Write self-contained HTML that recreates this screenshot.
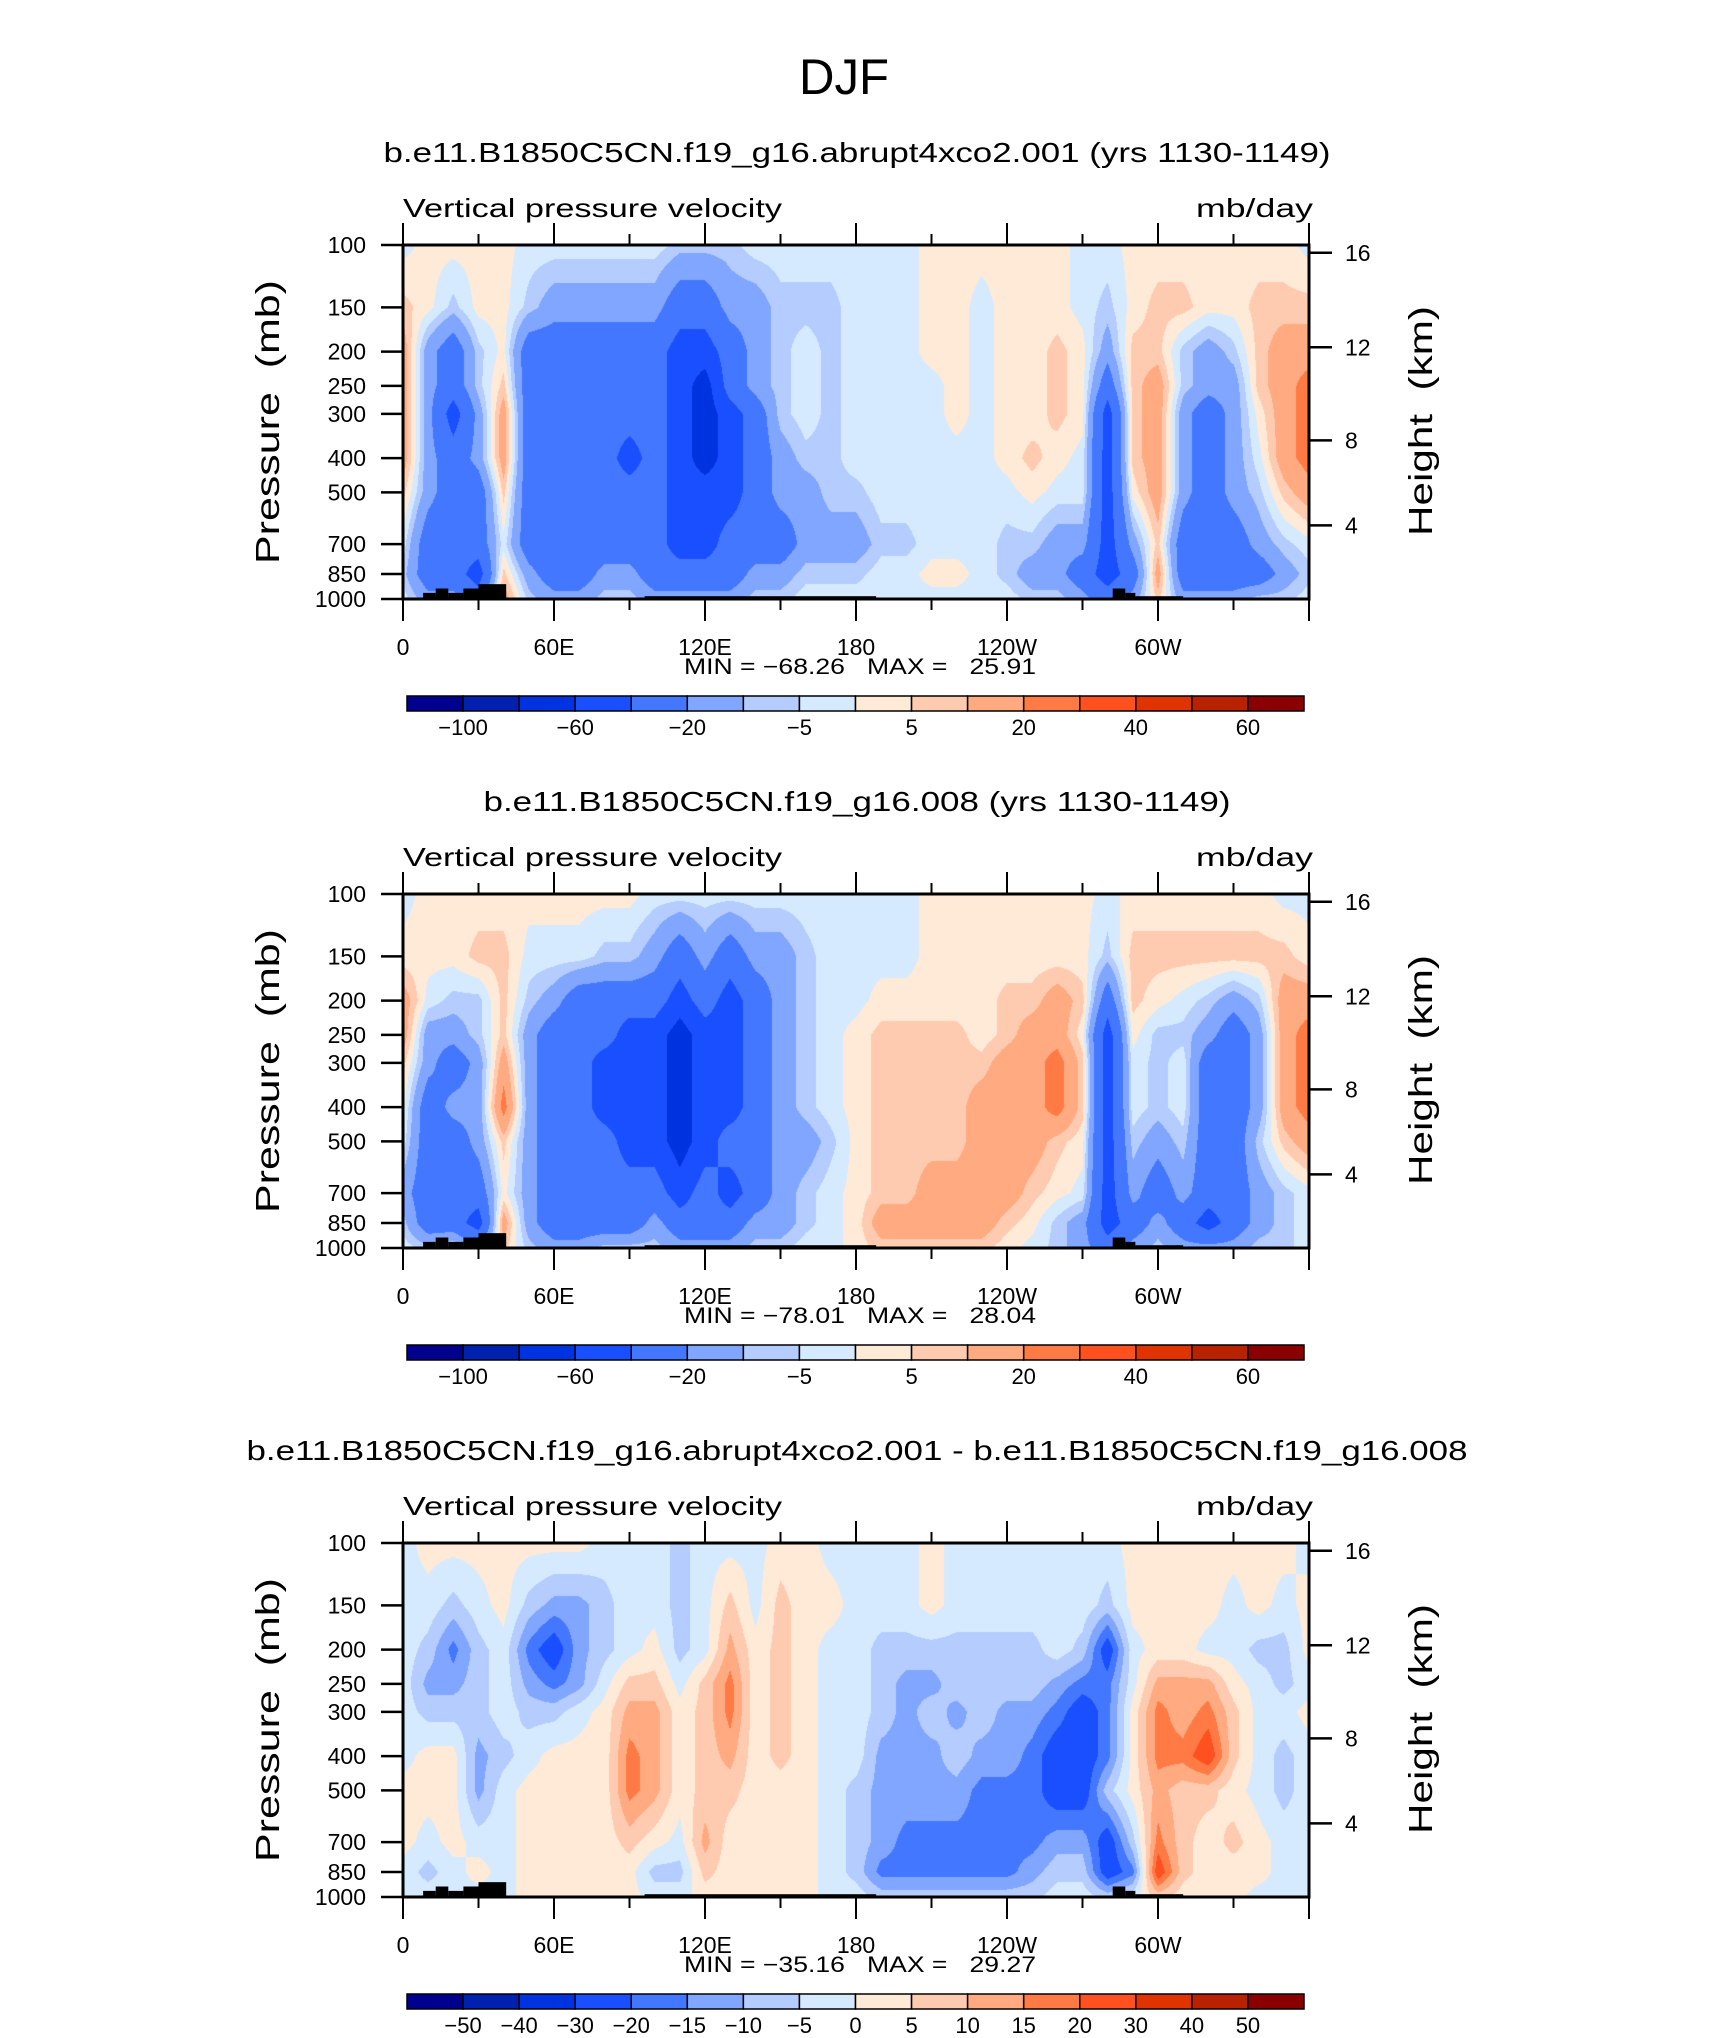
<!DOCTYPE html>
<html><head><meta charset="utf-8">
<style>
html,body{margin:0;padding:0;background:#fff;}
#wrap{position:relative;width:1710px;height:2038px;overflow:hidden;font-family:"Liberation Sans",sans-serif;}
canvas{position:absolute;}
svg{position:absolute;left:0;top:0;}
svg text{white-space:pre;}
</style></head>
<body>
<div id="wrap">
<canvas id="c0" width="906" height="354"></canvas>
<canvas id="c1" width="906" height="354"></canvas>
<canvas id="c2" width="906" height="354"></canvas>
<svg id="svg" width="1710" height="2038" xmlns="http://www.w3.org/2000/svg">
<text x="844" y="94" font-size="50" text-anchor="middle" textLength="90" lengthAdjust="spacingAndGlyphs" font-family="Liberation Sans Narrow, Liberation Sans, sans-serif">DJF</text>
</svg>
</div>
<script>
// ---- data ----
const lons=[0,10,20,30,40,50,60,70,80,90,100,110,120,130,140,150,160,170,180,190,200,210,220,230,240,250,260,270,280,290,300,310,320,330,340,350,360];
const pLevels=[100,150,200,250,300,400,500,700,850,1000];
const omegaExp=[
[-2,2,2,2,2,-2,-2,-2,-2,-2,-2,-7,-7,-7,-2,-2,-2,-2,-2,-2,-2,2,2,2,2,2,2,-2,-2,2,2,2,2,2,2,2,-2],
[7,2,-7,2,2,-7,-15,-15,-15,-15,-15,-30,-30,-15,-15,-7,-7,-7,-2,-2,-2,2,2,-2,2,2,2,-2,-7,2,7,7,2,2,7,7,7],
[15,-15,-30,-7,2,-30,-30,-30,-30,-30,-30,-50,-50,-30,-15,-7,-2,-7,-2,-2,-2,2,2,-2,2,2,7,2,-15,7,7,-7,-15,-7,7,15,15],
[15,-15,-30,-7,7,-30,-30,-30,-30,-30,-30,-50,-70,-30,-15,-7,-2,-7,-2,-2,-2,-2,2,-2,2,2,7,2,-30,7,15,-7,-15,-15,7,15,25],
[15,-15,-50,-15,15,-30,-30,-30,-30,-30,-30,-50,-70,-50,-30,-7,-2,-7,-2,-2,-2,-2,2,-2,2,2,7,2,-50,7,15,-15,-30,-15,2,15,25],
[15,-15,-30,-15,15,-30,-30,-30,-30,-50,-30,-50,-70,-50,-30,-15,-7,-7,-2,-2,-2,-2,-2,-2,2,7,2,-2,-50,7,15,-15,-30,-15,-2,15,25],
[7,-15,-30,-30,7,-30,-30,-30,-30,-30,-30,-50,-50,-50,-30,-15,-15,-7,-7,-2,-2,-2,-2,-2,-2,2,-2,-2,-50,2,15,-15,-30,-15,-7,7,15],
[-2,-30,-30,-30,-2,-30,-30,-30,-30,-30,-30,-50,-50,-30,-30,-30,-15,-15,-15,-7,-7,-2,-2,-2,-7,-7,-15,-15,-50,-15,7,-30,-30,-30,-15,-7,-2],
[-7,-30,-30,-50,7,-15,-30,-30,-15,-15,-30,-30,-30,-30,-15,-15,-7,-7,-7,-2,-2,2,2,-2,-7,-15,-15,-30,-50,-30,15,-30,-30,-30,-30,-15,-7],
[-2,-15,-15,-30,15,-7,-15,-15,-7,-7,-15,-15,-15,-15,-7,-7,-2,-2,-2,-2,-2,-2,-2,-2,-2,-7,-7,-15,-30,-15,7,-15,-15,-15,-7,-7,-2]];
const omegaCtl=[
[-2,2,2,2,2,2,2,2,2,2,-2,-2,-2,-2,-2,-2,-2,-2,-2,-2,-2,2,2,2,2,2,2,2,-2,2,2,2,2,2,2,-2,-2],
[2,2,2,7,7,-2,-2,-2,-7,-7,-15,-30,-15,-30,-15,-15,-7,-2,-2,-2,-2,2,2,2,2,2,2,2,-7,7,7,7,7,7,7,7,2],
[15,-2,-7,-7,7,-7,-15,-30,-30,-30,-30,-50,-30,-50,-30,-15,-7,-2,-2,2,2,2,2,2,7,7,15,7,-30,7,2,-2,-7,-15,-7,15,15],
[15,-15,-15,-7,7,-15,-30,-30,-30,-50,-50,-70,-50,-50,-30,-15,-7,-2,2,7,7,7,7,2,7,15,15,2,-50,2,-7,-7,-15,-30,-15,15,25],
[7,-15,-30,-15,15,-15,-30,-30,-50,-50,-50,-70,-50,-50,-30,-15,-7,-2,2,7,7,7,7,7,15,15,25,7,-50,-2,-7,-2,-30,-30,-15,15,25],
[2,-30,-15,-15,25,-15,-30,-30,-50,-50,-50,-70,-50,-50,-30,-15,-7,-2,2,7,7,7,7,15,15,15,25,7,-50,-2,-7,-2,-30,-30,-15,15,25],
[-2,-30,-30,-15,7,-15,-30,-30,-30,-50,-50,-70,-50,-30,-30,-15,-15,-7,2,7,7,7,7,15,15,15,7,2,-50,-7,-15,-7,-30,-30,-7,7,15],
[-15,-30,-30,-30,2,-15,-30,-30,-30,-30,-30,-50,-30,-50,-30,-15,-7,-2,2,7,7,15,15,15,15,7,2,-2,-50,-15,-30,-15,-30,-30,-15,-7,-2],
[-7,-30,-30,-50,15,-15,-30,-30,-30,-30,-15,-30,-30,-30,-15,-15,-7,-2,2,15,15,15,15,15,7,2,-7,-15,-50,-30,-15,-30,-50,-30,-15,-7,-2],
[-2,-7,-2,-15,7,-7,-15,-15,-7,-7,-7,-15,-15,-15,-7,-7,-2,-2,2,7,7,7,7,7,2,-2,-7,-15,-30,-15,-7,-15,-15,-15,-7,-7,-2]];
const omegaDiff=[
[-2,2,2,2,2,2,2,2,-2,-2,-2,-7,-2,-2,-2,2,2,-2,-2,-2,-2,2,-2,-2,-2,-2,-2,-2,-2,2,2,2,2,2,2,2,-2],
[-2,-2,-7,-2,2,-7,-12,-12,-7,-2,-2,-7,-2,7,-2,7,2,2,-2,-2,-2,2,-2,-2,-2,-2,-2,-2,-7,2,2,2,2,-2,2,-2,2],
[-2,-7,-17,-7,-2,-17,-25,-12,-7,-2,2,-7,-2,12,2,7,2,-2,-2,-7,-7,-7,-7,-7,-7,-7,-2,-7,-25,-2,2,2,-2,-2,-7,-7,2],
[-2,-12,-12,-7,-2,-12,-17,-12,-2,7,7,-2,7,17,2,7,2,-2,-2,-7,-12,-12,-7,-7,-7,-7,-12,-17,-17,-2,12,12,12,2,-2,-7,-2],
[-2,-7,-7,-7,-2,-7,-7,-2,2,12,12,2,7,17,2,7,2,-2,-2,-7,-12,-7,-12,-7,-12,-12,-17,-25,-17,2,17,12,17,7,-2,-2,2],
[-2,2,2,-12,-7,-2,2,2,2,17,12,2,7,12,2,7,2,-2,-2,-12,-12,-12,-7,-12,-12,-17,-25,-25,-17,2,17,17,25,7,-2,-7,-2],
[2,2,2,-12,-2,2,2,2,2,17,12,2,7,7,2,2,2,-2,-7,-12,-12,-12,-12,-17,-17,-17,-25,-25,-7,2,12,7,7,2,-2,-7,-2],
[2,-2,2,-2,-2,2,2,2,2,7,2,-2,12,2,2,2,2,-2,-7,-12,-17,-17,-17,-17,-17,-17,-12,-12,-25,-7,17,7,2,7,2,-2,-2],
[-2,-7,-2,2,-2,2,2,2,2,2,-7,-7,7,2,2,2,2,-2,-7,-17,-17,-17,-17,-17,-17,-12,-7,-7,-25,-17,25,7,2,2,2,-2,-2],
[-2,-2,-2,-2,-2,2,2,2,2,2,-2,-2,2,2,2,2,2,-2,-2,-7,-7,-7,-7,-7,-7,-7,-2,-2,-7,-2,7,2,2,2,-2,-2,-2]];
const levelsFull=[-100,-80,-60,-40,-20,-10,-5,0,5,10,20,30,40,50,60];
const levelsDiff=[-50,-40,-30,-20,-15,-10,-5,0,5,10,15,20,30,40,50];
const labelsFull=["-100","","-60","","-20","","-5","","5","","20","","40","","60"];
const labelsDiff=["-50","-40","-30","-20","-15","-10","-5","0","5","10","15","20","30","40","50"];
const colors=["#00008f","#0020b0","#0033e0","#1a4fff","#4477ff","#80a6ff","#b4ccff","#d6eaff","#ffead8","#ffcbb0","#ffaa80","#ff7a45","#ff5020","#e03400","#b82200","#8a0000"];
const lonTicks=[0,60,120,180,240,300];
const lonTickLabels=["0","60E","120E","180","120W","60W"];
const pTicks=[100,150,200,250,300,400,500,700,850,1000];
const hTicks=[16,12,8,4];
const hTickFrac=[0.022,0.289,0.552,0.792];
const topoStart=[8,13,18,24,30,96,282,287,291];
const topoEnd=[13,18,24,30,41,188,287,291,310];
const topoP=[961,934,961,934,908,982,934,961,982];
const titles=["b.e11.B1850C5CN.f19_g16.abrupt4xco2.001 (yrs 1130-1149)","b.e11.B1850C5CN.f19_g16.008 (yrs 1130-1149)","b.e11.B1850C5CN.f19_g16.abrupt4xco2.001 - b.e11.B1850C5CN.f19_g16.008"];
const titleLen=[947,747,1221];
const minVals=["-68.26","-78.01","-35.16"];
const maxVals=["25.91","28.04","29.27"];

// ---- layout ----
const PX0=403,PX1=1309,PH=354,PTOP=245,DY=649;
const NS="http://www.w3.org/2000/svg";
const svg=document.getElementById('svg');
function xS(lon){return PX0+(lon/360)*(PX1-PX0);}
function yS(p,top){return top+(Math.log10(p)-2)*PH;}
function mk(tag,attrs,parent){const e=document.createElementNS(NS,tag);for(const k in attrs)e.setAttribute(k,attrs[k]);(parent||svg).appendChild(e);return e;}
function hex(c){return[parseInt(c.substr(1,2),16),parseInt(c.substr(3,2),16),parseInt(c.substr(5,2),16)];}
const rgb=colors.map(hex);

function sample(grid,lon,lp){
  let fi=lon/10; let i=Math.min(Math.floor(fi),lons.length-2); let tx=fi-i;
  let j=0; while(j<pLevels.length-2 && lp>Math.log10(pLevels[j+1])) j++;
  const a=Math.log10(pLevels[j]),b=Math.log10(pLevels[j+1]); let ty=(lp-a)/(b-a); ty=Math.max(0,Math.min(1,ty));
  const v00=grid[j][i],v01=grid[j][i+1],v10=grid[j+1][i],v11=grid[j+1][i+1];
  return (v00*(1-tx)+v01*tx)*(1-ty)+(v10*(1-tx)+v11*tx)*ty;
}

const grids=[omegaExp,omegaCtl,omegaDiff];
const levs=[levelsFull,levelsFull,levelsDiff];
const labs=[labelsFull,labelsFull,labelsDiff];

for(let k=0;k<3;k++){
  const top=PTOP+k*DY;
  const cv=document.getElementById('c'+k);
  cv.style.left=PX0+'px'; cv.style.top=top+'px';
  const ctx=cv.getContext('2d'); const img=ctx.createImageData(906,354);
  const lev=levs[k];
  for(let y=0;y<354;y++){
    const lp=2+(y+0.5)/PH;
    for(let x=0;x<906;x++){
      const lon=(x+0.5)/906*360;
      const v=sample(grids[k],lon,lp);
      let ci=0;while(ci<lev.length&&v>=lev[ci])ci++;
      const c=rgb[ci]; const o=(y*906+x)*4;
      img.data[o]=c[0];img.data[o+1]=c[1];img.data[o+2]=c[2];img.data[o+3]=255;
    }
  }
  ctx.putImageData(img,0,0);

  const g=mk('g',{});
  
  
  for(let t=0;t<topoP.length;t++){
    const r=mk('rect',{x:xS(topoStart[t]),y:yS(topoP[t],top),width:xS(topoEnd[t])-xS(topoStart[t]),height:top+PH-yS(topoP[t],top),fill:'#000'},g);
    
    
  }
  const tt=mk('text',{x:857,y:top-83,'font-size':28,'text-anchor':'middle',textLength:titleLen[k],lengthAdjust:'spacingAndGlyphs'},g);
  tt.textContent=titles[k];
  
  
  const st=mk('text',{x:403,y:top-28,'font-size':26,textLength:379,lengthAdjust:'spacingAndGlyphs'},g);
  st.textContent='Vertical pressure velocity';
  
  
  const un=mk('text',{x:1313,y:top-28,'font-size':26,'text-anchor':'end',textLength:117,lengthAdjust:'spacingAndGlyphs'},g);
  un.textContent='mb/day';
  
  
  const fr=mk('rect',{x:PX0,y:top,width:PX1-PX0,height:PH,fill:'none',stroke:'#000','stroke-width':3},g);
  
  
  for(let L=0;L<=360;L+=30){
    const major=(L%60===0); const len=major?22:11;
    mk('line',{x1:xS(L),x2:xS(L),y1:top,y2:top-len,stroke:'#000','stroke-width':2},g);
    mk('line',{x1:xS(L),x2:xS(L),y1:top+PH,y2:top+PH+len,stroke:'#000','stroke-width':2},g);
  }
  for(let i=0;i<lonTicks.length;i++){
    const tl=mk('text',{x:xS(lonTicks[i]),y:top+PH+56,'font-size':23,'text-anchor':'middle'},g);
    tl.textContent=lonTickLabels[i];
    
    
  }
  for(let i=0;i<pTicks.length;i++){
    const yy=yS(pTicks[i],top);
    mk('line',{x1:PX0-22,x2:PX0,y1:yy,y2:yy,stroke:'#000','stroke-width':2.5},g);
    const pl=mk('text',{x:366,y:yy+8,'font-size':23,'text-anchor':'end'},g);
    pl.textContent=String(pTicks[i]);
    
    
  }
  for(let i=0;i<hTicks.length;i++){
    const yy=top+hTickFrac[i]*PH;
    mk('line',{x1:PX1,x2:PX1+23,y1:yy,y2:yy,stroke:'#000','stroke-width':2.5},g);
    const hl=mk('text',{x:1345,y:yy+8,'font-size':23},g);
    hl.textContent=String(hTicks[i]);
    
    
  }
  const yl=mk('text',{x:0,y:0,'font-size':33,'text-anchor':'middle',textLength:284,lengthAdjust:'spacingAndGlyphs',transform:'translate(279,'+(top+177)+') rotate(-90)'},g);
  yl.textContent='Pressure  (mb)';
  
  
  const hl2=mk('text',{x:0,y:0,'font-size':33,'text-anchor':'middle',textLength:230,lengthAdjust:'spacingAndGlyphs',transform:'translate(1432,'+(top+176)+') rotate(-90)'},g);
  hl2.textContent='Height  (km)';
  
  
  const mm=mk('text',{x:684,y:top+PH+75,'font-size':22,textLength:352,lengthAdjust:'spacingAndGlyphs'},g);
  mm.textContent='MIN = '+minVals[k].replace('-','\u2212')+'\u00a0\u00a0\u00a0MAX =\u00a0\u00a0\u00a0'+maxVals[k];
  
  
  const cbY=top+451, cbX=407, cbW=897/16;
  for(let i=0;i<16;i++){
    const r=mk('rect',{x:cbX+i*cbW,y:cbY,width:cbW,height:15,fill:colors[i],stroke:'#000','stroke-width':1.5},g);
    
    
  }
  for(let i=0;i<15;i++){
    if(!labs[k][i])continue;
    const cl=mk('text',{x:cbX+(i+1)*cbW,y:cbY+39,'font-size':22,'text-anchor':'middle'},g);
    cl.textContent=labs[k][i].replace('-','\u2212');
    
    
  }
}
</script>
</body></html>
